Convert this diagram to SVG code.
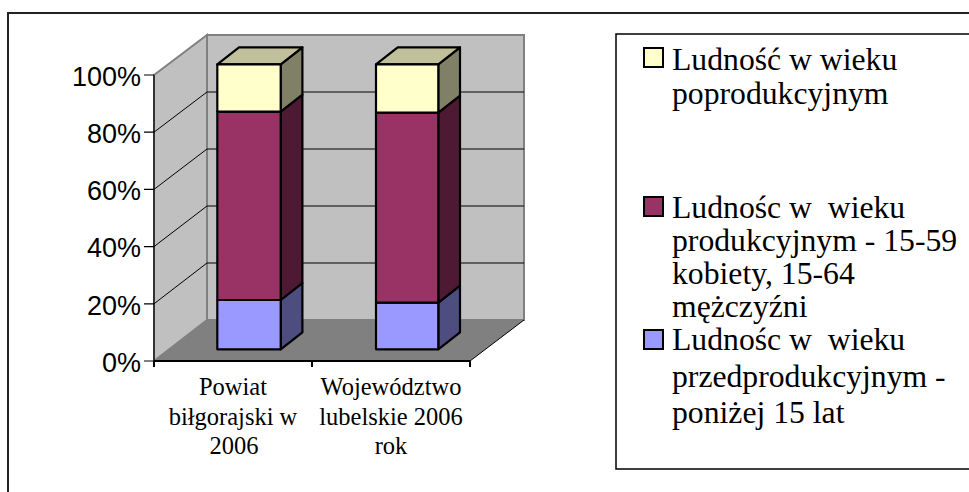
<svg xmlns="http://www.w3.org/2000/svg" width="969" height="492" viewBox="0 0 969 492">
<style>
.ax{font-family:"Liberation Sans",Arial,sans-serif;font-size:27px;fill:#000;text-anchor:end}
.cat{font-family:"Liberation Serif","Times New Roman",serif;font-size:24.5px;fill:#000;text-anchor:middle}
.lg{font-family:"Liberation Serif","Times New Roman",serif;font-size:31.7px;fill:#000}
.wall{fill:#C0C0C0;stroke:#808080;stroke-width:2}
.grid{stroke:#000;stroke-width:1;fill:none}
.bar{stroke:#000;stroke-width:2.2;stroke-linejoin:round}
.mk{stroke:#000;stroke-width:2}
</style>
<rect width="969" height="492" fill="#fff"/>
<g id="frame">
<path d="M8,492 V13 H969" fill="none" stroke="#222" stroke-width="2"/>
</g>
<g id="plot-area">
<polygon class="wall" points="154,75 207,35 207,320 154,361"/>
<rect class="wall" x="207" y="35" width="317" height="285"/>
<polygon points="154,361 207,320 524,320 470,361" fill="#808080"/>
<line x1="470" y1="361" x2="524" y2="320" stroke="#000" stroke-width="1"/>
<g class="grid">
<line x1="207" y1="263" x2="524" y2="263"/>
<line x1="207" y1="206" x2="524" y2="206"/>
<line x1="207" y1="149" x2="524" y2="149"/>
<line x1="207" y1="92" x2="524" y2="92"/>
<line x1="154" y1="303.8" x2="207" y2="263"/>
<line x1="154" y1="246.6" x2="207" y2="206"/>
<line x1="154" y1="189.4" x2="207" y2="149"/>
<line x1="154" y1="132.2" x2="207" y2="92"/>
</g>
</g>
<g id="axes">
<path d="M154,75 V361 M144,75 H154 M144,132.2 H154 M144,189.4 H154 M144,246.6 H154 M144,303.8 H154 M144,361 H154" stroke="#000" stroke-width="1.2" fill="none"/>
<path d="M154,361 H470 M154,361 V367 M312,361 V367 M470,361 V367" stroke="#000" stroke-width="2" fill="none"/>
<text class="ax" x="141" y="86">100%</text>
<text class="ax" x="141" y="143">80%</text>
<text class="ax" x="141" y="200">60%</text>
<text class="ax" x="141" y="257">40%</text>
<text class="ax" x="141" y="315">20%</text>
<text class="ax" x="141" y="372">0%</text>
<text class="cat" x="233" y="395">Powiat</text>
<text class="cat" x="233" y="425">biłgorajski w</text>
<text class="cat" x="234" y="454">2006</text>
<text class="cat" x="391" y="395">Województwo</text>
<text class="cat" x="391" y="425">lubelskie 2006</text>
<text class="cat" x="391" y="454">rok</text>
</g>
<g id="bar-powiat">
<polygon class="bar" fill="#4D4D80" points="280.7,349.3 302.4,332.3 302.4,283 280.7,300"/>
<polygon class="bar" fill="#4D1933" points="280.7,300 302.4,283 302.4,94.7 280.7,111.7"/>
<polygon class="bar" fill="#808066" points="280.7,111.7 302.4,94.7 302.4,47.3 280.7,64.3"/>
<polygon class="bar" fill="#C0C09A" points="217.3,64.3 239,47.3 302.4,47.3 280.7,64.3"/>
<rect class="bar" fill="#9999FF" x="217.3" y="300" width="63.4" height="49.3"/>
<rect class="bar" fill="#993366" x="217.3" y="111.7" width="63.4" height="188.3"/>
<rect class="bar" fill="#FFFFCC" x="217.3" y="64.3" width="63.4" height="47.4"/>
</g>
<g id="bar-wojewodztwo">
<polygon class="bar" fill="#4D4D80" points="438.3,349.3 460,332.3 460,285.7 438.3,302.7"/>
<polygon class="bar" fill="#4D1933" points="438.3,302.7 460,285.7 460,95.7 438.3,112.7"/>
<polygon class="bar" fill="#808066" points="438.3,112.7 460,95.7 460,47.3 438.3,64.3"/>
<polygon class="bar" fill="#C0C09A" points="376,64.3 397.7,47.3 460,47.3 438.3,64.3"/>
<rect class="bar" fill="#9999FF" x="376" y="302.7" width="62.3" height="46.6"/>
<rect class="bar" fill="#993366" x="376" y="112.7" width="62.3" height="190"/>
<rect class="bar" fill="#FFFFCC" x="376" y="64.3" width="62.3" height="48.4"/>
</g>
<g id="legend">
<path d="M975,34 H616 V469 H975" fill="#fff" stroke="#000" stroke-width="1.5"/>
<rect class="mk" fill="#FFFFCC" x="644" y="48" width="19" height="19"/>
<text class="lg" x="672" y="70">Ludność w wieku</text>
<text class="lg" x="672" y="104">poprodukcyjnym</text>
<rect class="mk" fill="#993366" x="644" y="197" width="19" height="19"/>
<text class="lg" x="672" y="218" xml:space="preserve">Ludnośc w  wieku</text>
<text class="lg" x="672" y="251">produkcyjnym - 15-59</text>
<text class="lg" x="672" y="284">kobiety, 15-64</text>
<text class="lg" x="672" y="317">mężczyźni</text>
<rect class="mk" fill="#9999FF" x="644" y="330" width="19" height="19"/>
<text class="lg" x="672" y="350" xml:space="preserve">Ludnośc w  wieku</text>
<text class="lg" x="672" y="387">przedprodukcyjnym -</text>
<text class="lg" x="672" y="423">poniżej 15 lat</text>
</g>
</svg>
